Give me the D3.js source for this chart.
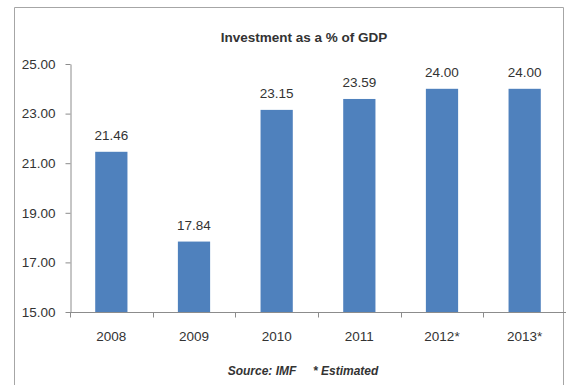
<!DOCTYPE html>
<html>
<head>
<meta charset="utf-8">
<script src="https://cdn.jsdelivr.net/npm/d3@7"></script>
<style>
  html, body { margin: 0; padding: 0; background: #fff; }
  svg { display: block; }
  text { font-family: "Liberation Sans", Arial, sans-serif; fill: #333; }
</style>
</head>
<body>
<svg id="chart" width="566" height="385"></svg>
<script>
// Investment as a share of GDP, by year
const years = ["2008", "2009", "2010", "2011", "2012*", "2013*"];
const investment = [21.46, 17.84, 23.15, 23.59, 24.00, 24.00];
const yTicks = [15, 17, 19, 21, 23, 25];
const title = "Investment as a % of GDP";
const footnote = "Source: IMF     * Estimated";

const svg = d3.select("#chart");
const W = 566, H = 385;
const plot = { left: 70, right: 566, top: 64, bottom: 312 };

// outer frame (open at the bottom edge of the page)
svg.append("path")
  .attr("d", `M14.5,${H} V7.5 H563.5 V${H}`)
  .attr("fill", "none")
  .attr("stroke", "#a6a6a6")
  .attr("stroke-width", 1);

const x = d3.scaleBand()
  .domain(years)
  .range([plot.left, plot.right])
  .paddingInner(0.61)
  .paddingOuter(0.305);

const y = d3.scaleLinear()
  .domain([15, 25])
  .range([plot.bottom, plot.top]);

// bars
svg.append("g").selectAll("rect")
  .data(years.map((c, i) => ({ c, v: investment[i] })))
  .join("rect")
  .attr("x", d => x(d.c))
  .attr("y", d => y(d.v))
  .attr("width", x.bandwidth())
  .attr("height", d => y(15) - y(d.v))
  .attr("fill", "#4f81bd");

// value labels
svg.append("g").selectAll("text")
  .data(years.map((c, i) => ({ c, v: investment[i] })))
  .join("text")
  .attr("x", d => x(d.c) + x.bandwidth() / 2)
  .attr("y", d => y(d.v) - 12)
  .attr("text-anchor", "middle")
  .style("font-size", "13.5px")
  .text(d => d.v.toFixed(2));

// y axis
const yAxis = svg.append("g")
  .attr("transform", `translate(${plot.left + 0.5},0)`)
  .call(d3.axisLeft(y).tickValues(yTicks).tickFormat(d3.format(".2f")).tickSize(5).tickSizeOuter(0));
yAxis.select(".domain").attr("stroke", "#8c8c8c");
yAxis.selectAll(".tick line").attr("stroke", "#8c8c8c");
yAxis.selectAll(".tick text")
  .attr("x", -15)
  .style("font-size", "13.5px")
  .style("font-family", "Liberation Sans, Arial, sans-serif")
  .attr("fill", "#333");

// x axis with ticks on category boundaries
const xAxis = svg.append("g")
  .attr("transform", `translate(0,${plot.bottom + 0.5})`);
xAxis.append("line")
  .attr("x1", plot.left).attr("x2", plot.right)
  .attr("stroke", "#8c8c8c");
const step = x.step();
xAxis.selectAll("line.tick")
  .data(d3.range(0, years.length + 1))
  .join("line")
  .attr("class", "tick")
  .attr("x1", i => Math.round(plot.left + i * step) + 0.5)
  .attr("x2", i => Math.round(plot.left + i * step) + 0.5)
  .attr("y1", 0).attr("y2", 5)
  .attr("stroke", "#8c8c8c");
xAxis.selectAll("text")
  .data(years)
  .join("text")
  .attr("x", d => x(d) + x.bandwidth() / 2)
  .attr("y", 28.5)
  .attr("text-anchor", "middle")
  .style("font-size", "13.5px")
  .text(d => d);

// title
svg.append("text")
  .attr("x", 304)
  .attr("y", 42)
  .attr("text-anchor", "middle")
  .style("font-size", "13.5px")
  .style("font-weight", "bold")
  .attr("fill", "#262626")
  .text(title);

// source note
svg.append("text")
  .attr("x", 303)
  .attr("y", 375)
  .attr("text-anchor", "middle")
  .style("font-size", "12px")
  .style("font-weight", "bold")
  .style("font-style", "italic")
  .style("white-space", "pre")
  .attr("xml:space", "preserve")
  .attr("fill", "#262626")
  .text(footnote);
</script>
</body>
</html>
